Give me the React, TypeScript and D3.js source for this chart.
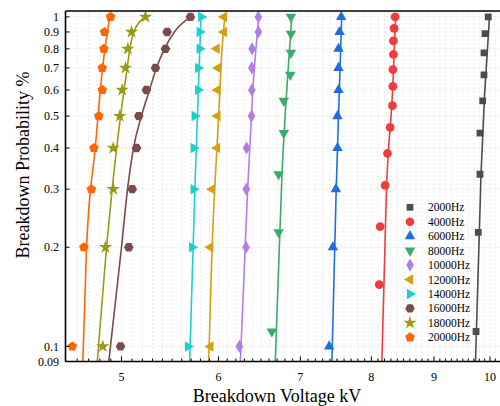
import { useEffect, useRef } from "react";
import * as d3 from "d3";

// probability levels (rank / n)
const p10 = [0.1, 0.2, 0.3, 0.4, 0.5, 0.6, 0.7, 0.8, 0.9, 1.0];
const p9 = [0.111, 0.222, 0.333, 0.444, 0.556, 0.667, 0.778, 0.889, 1.0];
const p13 = [0.154, 0.231, 0.308, 0.385, 0.462, 0.538, 0.615, 0.692, 0.769, 0.846, 0.923, 1.0];

// breakdown voltages, kV (ascending)
const v2000 = [9.741, 9.783, 9.814, 9.814, 9.864, 9.888, 9.888, 9.907, 9.968];
const v4000 = [8.12, 8.134, 8.21, 8.246, 8.288, 8.324, 8.33, 8.33, 8.339, 8.339, 8.35, 8.366];
const v6000 = [7.39, 7.442, 7.484, 7.506, 7.506, 7.521, 7.521, 7.521, 7.535, 7.559];
const v8000 = [6.634, 6.719, 6.719, 6.785, 6.785, 6.868, 6.877, 6.877, 6.877];
const v10000 = [6.241, 6.32, 6.323, 6.326, 6.385, 6.389, 6.389, 6.392, 6.468, 6.468];
const v12000 = [5.91, 5.91, 5.929, 5.985, 5.99, 5.99, 5.995, 5.98, 6.062, 6.062];
const v14000 = [5.665, 5.71, 5.727, 5.727, 5.738, 5.775, 5.775, 5.792, 5.792, 5.808];
const v16000 = [4.991, 5.069, 5.102, 5.143, 5.165, 5.24, 5.33, 5.431, 5.448, 5.692];
const v18000 = [4.827, 4.852, 4.923, 4.923, 4.984, 5.007, 5.038, 5.06, 5.095, 5.231];
const v20000 = [4.558, 4.658, 4.724, 4.747, 4.791, 4.822, 4.822, 4.837, 4.843, 4.898];

// fitted curves: [voltage, probability]
const fit2000 = { v: [9.732, 9.833, 9.991], p: [0.09, 0.333, 1.0] };
const fit4000 = { v: [8.16, 8.231, 8.327, 8.374], p: [0.09, 0.3, 0.6, 1.0] };
const fit6000 = { v: [7.428, 7.488, 7.566], p: [0.09, 0.3, 1.0] };
const fit8000 = { v: [6.677, 6.762, 6.836, 6.888], p: [0.09, 0.333, 0.667, 1.0] };
const fit10000 = { v: [6.253, 6.339, 6.401, 6.474], p: [0.09, 0.3, 0.6, 1.0] };
const fit12000 = { v: [5.891, 5.929, 5.958, 6.003, 6.041, 6.073], p: [0.09, 0.2, 0.3, 0.5, 0.8, 1.0] };
const fit14000 = { v: [5.684, 5.74, 5.806], p: [0.09, 0.3, 1.0] };
const fit16000 = {
  v: [4.882, 5.0, 5.057, 5.114, 5.191, 5.27, 5.34, 5.421, 5.523, 5.692],
  p: [0.09, 0.2, 0.3, 0.4, 0.5, 0.6, 0.7, 0.8, 0.9, 1.0],
};
const fit18000 = {
  v: [4.777, 4.861, 4.913, 4.991, 5.054, 5.079, 5.117, 5.231],
  p: [0.09, 0.2, 0.3, 0.5, 0.7, 0.8, 0.9, 1.0],
};
const fit20000 = { v: [4.649, 4.682, 4.759, 4.825, 4.891], p: [0.09, 0.2, 0.4, 0.7, 1.0] };

const xTicks = [5, 6, 7, 8, 9, 10];
const yTicks = [0.09, 0.1, 0.2, 0.3, 0.4, 0.5, 0.6, 0.7, 0.8, 0.9, 1];
const yTickLabels = ["0.09", "0.1", "0.2", "0.3", "0.4", "0.5", "0.6", "0.7", "0.8", "0.9", "1"];

const pentagon = {
  draw(ctx, size) {
    const r = Math.sqrt(size / 2.378);
    for (let i = 0; i < 5; i++) {
      const a = -Math.PI / 2 + (i * 2 * Math.PI) / 5;
      if (i === 0) ctx.moveTo(r * Math.cos(a), r * Math.sin(a));
      else ctx.lineTo(r * Math.cos(a), r * Math.sin(a));
    }
    ctx.closePath();
  },
};
const hexagon = {
  draw(ctx, size) {
    const r = Math.sqrt(size / 2.598);
    for (let i = 0; i < 6; i++) {
      const a = (i * Math.PI) / 3;
      if (i === 0) ctx.moveTo(r * Math.cos(a), r * Math.sin(a));
      else ctx.lineTo(r * Math.cos(a), r * Math.sin(a));
    }
    ctx.closePath();
  },
};

const series = [
  { name: "2000Hz", color: "#4d4d4d", v: v2000, p: p9, fit: fit2000, sym: d3.symbolSquare, size: 46, rot: 0 },
  { name: "4000Hz", color: "#f03c3c", v: v4000, p: p13, fit: fit4000, sym: d3.symbolCircle, size: 60, rot: 0 },
  { name: "6000Hz", color: "#1f6ee0", v: v6000, p: p10, fit: fit6000, sym: d3.symbolTriangle, size: 48, rot: 0 },
  { name: "8000Hz", color: "#38ac68", v: v8000, p: p9, fit: fit8000, sym: d3.symbolTriangle, size: 48, rot: 180 },
  { name: "10000Hz", color: "#b27de6", v: v10000, p: p10, fit: fit10000, sym: d3.symbolDiamond, size: 50, rot: 0 },
  { name: "12000Hz", color: "#d4a012", v: v12000, p: p10, fit: fit12000, sym: d3.symbolTriangle, size: 48, rot: -90 },
  { name: "14000Hz", color: "#1ecfcf", v: v14000, p: p10, fit: fit14000, sym: d3.symbolTriangle, size: 48, rot: 90 },
  { name: "16000Hz", color: "#7b4a4a", v: v16000, p: p10, fit: fit16000, sym: hexagon, size: 60, rot: 0 },
  { name: "18000Hz", color: "#9a9a14", v: v18000, p: p10, fit: fit18000, sym: d3.symbolStar, size: 55, rot: 0 },
  { name: "20000Hz", color: "#ff6600", v: v20000, p: p10, fit: fit20000, sym: pentagon, size: 60, rot: 0 },
];

export default function App() {
  const ref = useRef(null);

  useEffect(() => {
    const svg = d3.select(ref.current);
    svg.selectAll("*").remove();

    const left = 65.5, right = 500.5, top = 11, bottom = 361.5;
    const font = "'Liberation Serif', 'Times New Roman', serif";

    const x = d3.scaleLog([4.5, 10.2], [left, right]);
    const y = d3.scaleLog([0.09, 1.042], [bottom, top]);

    svg.append("defs").append("clipPath").attr("id", "plot")
      .append("rect").attr("x", left).attr("y", top).attr("width", right - left).attr("height", bottom - top);

    // grid
    const minor = d3.range(46, 102).map((d) => d / 10);
    svg.append("g").selectAll("line").data(minor).join("line")
      .attr("x1", (d) => x(d)).attr("x2", (d) => x(d))
      .attr("y1", top).attr("y2", bottom)
      .attr("stroke", "#dcdcdc").attr("stroke-width", 0.6).attr("stroke-dasharray", "2,2");
    svg.append("g").selectAll("line").data(yTicks.slice(1)).join("line")
      .attr("x1", left).attr("x2", right)
      .attr("y1", (d) => y(d)).attr("y2", (d) => y(d))
      .attr("stroke", "#dcdcdc").attr("stroke-width", 0.6).attr("stroke-dasharray", "2,2");

    const plot = svg.append("g").attr("clip-path", "url(#plot)");

    // fitted lines
    const line = d3.line().x((d) => x(d[0])).y((d) => y(d[1])).curve(d3.curveMonotoneX);
    series.forEach((s) => {
      plot.append("path")
        .datum(s.fit.v.map((v, i) => [v, s.fit.p[i]]))
        .attr("d", line)
        .attr("fill", "none")
        .attr("stroke", s.color)
        .attr("stroke-width", 1.6);
    });

    // points
    series.forEach((s) => {
      const sym = d3.symbol().type(s.sym).size(s.size);
      plot.append("g").selectAll("path")
        .data(s.v.map((v, i) => [v, s.p[i]]))
        .join("path")
        .attr("d", sym)
        .attr("transform", (d) => `translate(${x(d[0])},${y(d[1])}) rotate(${s.rot})`)
        .attr("fill", s.color);
    });

    // frame
    const frame = svg.append("g").attr("stroke", "#000").attr("fill", "none");
    frame.append("line").attr("x1", left).attr("x2", right).attr("y1", top).attr("y2", top).attr("stroke-width", 1.6);
    frame.append("line").attr("x1", left).attr("x2", right).attr("y1", bottom).attr("y2", bottom).attr("stroke-width", 1.6);
    frame.append("line").attr("x1", left).attr("x2", left).attr("y1", top).attr("y2", bottom).attr("stroke-width", 1.6);

    // x ticks
    frame.append("g").selectAll("line").data(minor).join("line")
      .attr("x1", (d) => x(d)).attr("x2", (d) => x(d))
      .attr("y1", bottom).attr("y2", (d) => (xTicks.includes(d) ? bottom - 5 : bottom - 3))
      .attr("stroke-width", 1);
    svg.append("g").selectAll("text").data(xTicks).join("text")
      .attr("x", (d) => x(d)).attr("y", 380.5)
      .attr("text-anchor", "middle")
      .attr("font-family", font).attr("font-size", 12)
      .text((d) => d);

    // y ticks
    frame.append("g").selectAll("line").data(yTicks).join("line")
      .attr("x1", left).attr("x2", left + 4)
      .attr("y1", (d) => y(d)).attr("y2", (d) => y(d))
      .attr("stroke-width", 1);
    svg.append("g").selectAll("text").data(yTicks).join("text")
      .attr("x", 59).attr("y", (d) => y(d)).attr("dy", "0.35em")
      .attr("text-anchor", "end")
      .attr("font-family", font).attr("font-size", 12)
      .text((d, i) => yTickLabels[i]);

    // axis titles
    svg.append("text")
      .attr("x", 277).attr("y", 401.5)
      .attr("text-anchor", "middle")
      .attr("font-family", font).attr("font-size", 18)
      .text("Breakdown Voltage kV");
    svg.append("text")
      .attr("transform", "translate(28.5,165) rotate(-90)")
      .attr("text-anchor", "middle")
      .attr("font-family", font).attr("font-size", 18)
      .text("Breakdown Probability %");

    // legend
    const legend = svg.append("g");
    series.forEach((s, i) => {
      const row = legend.append("g").attr("transform", `translate(410,${207.3 + i * 14.45})`);
      row.append("path")
        .attr("d", d3.symbol().type(s.sym).size(s.size)())
        .attr("transform", `rotate(${s.rot})`)
        .attr("fill", s.color);
      row.append("text")
        .attr("x", 18).attr("dy", "0.35em")
        .attr("font-family", font).attr("font-size", 11.5)
        .text(s.name);
    });
  }, []);

  return (
    <svg
      ref={ref}
      width={500}
      height={406}
      style={{ position: "absolute", left: 0, top: 0, background: "#fff" }}
    />
  );
}
